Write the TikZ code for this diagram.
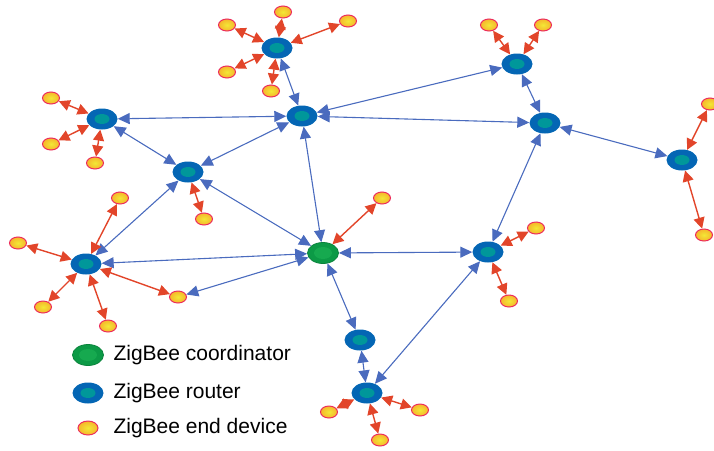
\documentclass[tikz,border=0pt]{standalone}
\usepackage{fontspec}
\setmainfont{Liberation Sans}
\usetikzlibrary{shapes.geometric,arrows.meta}

\definecolor{zbblue}{HTML}{0466B4}
\definecolor{zbteal}{HTML}{00979A}
\definecolor{zbgreen}{HTML}{0C9A46}
\definecolor{zbgreenin}{HTML}{16A94F}
\definecolor{zbline}{HTML}{4A6BBE}
\definecolor{zbred}{HTML}{E2452A}
\definecolor{zbpink}{HTML}{EC2C5C}
\definecolor{zbyellow}{HTML}{F2E836}
\definecolor{zborange}{HTML}{F6B52C}

\tikzset{
  router/.style={ellipse, fill=zbblue, minimum width=31pt, minimum height=21pt, inner sep=0pt,
    path picture={\fill[zbteal] (path picture bounding box.center) ellipse (7.5pt and 5pt);}},
  coordnode/.style={ellipse, fill=zbgreen, draw=zbgreen!85!black, line width=0.8pt,
    minimum width=31pt, minimum height=21pt, inner sep=0pt,
    path picture={\fill[zbgreenin] (path picture bounding box.center) ellipse (9pt and 6pt);}},
  enddev/.style={ellipse, draw=zbpink, line width=1pt, inner color=zbyellow, outer color=zborange,
    minimum width=17pt, minimum height=12pt, inner sep=0pt},
  blink/.style={color=zbline, line width=1.1pt,
    {Triangle[length=12pt,width=11pt]}-{Triangle[length=12pt,width=11pt]}},
  rlink/.style={color=zbred, line width=1.4pt,
    {Triangle[length=11pt,width=11pt]}-{Triangle[length=11pt,width=11pt]}},
  legtext/.style={anchor=west, font=\fontsize{21}{25}\selectfont}
}

\begin{document}
\begin{tikzpicture}[x=1pt, y=-1pt]
    \useasboundingbox (0,0) rectangle (714,450);

    % 1. coordinator and routers
    \node[coordnode] (co) at (323,253) {};
    \node[router] (r1) at (277,48) {};
    \node[router] (r2) at (102,119) {};
    \node[router] (r3) at (302,116) {};
    \node[router] (r4) at (188,172) {};
    \node[router] (r5) at (517,64) {};
    \node[router] (r6) at (545,123) {};
    \node[router] (r7) at (682,160) {};
    \node[router] (r8) at (86,264) {};
    \node[router] (r9) at (488,252) {};
    \node[router] (r10) at (360,340) {};
    \node[router] (r11) at (367,393) {};

    % 2. end devices
    \node[enddev] (e1) at (227,25) {};
    \node[enddev] (e2) at (283,12) {};
    \node[enddev] (e3) at (348,21) {};
    \node[enddev] (e4) at (227,72) {};
    \node[enddev] (e5) at (271,91) {};
    \node[enddev] (e6) at (51,98) {};
    \node[enddev] (e7) at (51,144) {};
    \node[enddev] (e8) at (95,163) {};
    \node[enddev] (e9) at (204,219) {};
    \node[enddev] (e10) at (120,198) {};
    \node[enddev] (e11) at (18,243) {};
    \node[enddev] (e12) at (43,307) {};
    \node[enddev] (e13) at (108,326) {};
    \node[enddev] (e14) at (178,297) {};
    \node[enddev] (e15) at (382,198) {};
    \node[enddev] (e16) at (536,228) {};
    \node[enddev] (e17) at (509,301) {};
    \node[enddev] (e18) at (489,25) {};
    \node[enddev] (e19) at (543,25) {};
    \node[enddev] (e20) at (710,104) {};
    \node[enddev] (e21) at (704,235) {};
    \node[enddev] (e22) at (329,412) {};
    \node[enddev] (e23) at (380,440) {};
    \node[enddev] (e24) at (420,410) {};

    % 3. router links (blue)
    \draw[blink] (r2) edge (r3) (r1) edge (r3) (r3) edge (r4) (r2) edge (r4)
                 (r4) edge (r8) (r4) edge (co) (r3) edge (co) (r3) edge (r5)
                 (r3) edge (r6) (r5) edge (r6) (r6) edge (r7) (r6) edge (r9)
                 (co) edge (r9) (co) edge (r10) (r10) edge (r11) (r9) edge (r11)
                 (r8) edge (co) (co) edge (e14);

    % 4. end device links (red)
    \draw[rlink] (r1) edge (e1) (r1) edge (e2) (r1) edge (e3) (r1) edge (e4) (r1) edge (e5)
                 (r2) edge (e6) (r2) edge (e7) (r2) edge (e8) (r4) edge (e9)
                 (r8) edge (e10) (r8) edge (e11) (r8) edge (e12) (r8) edge (e13) (r8) edge (e14)
                 (co) edge (e15) (r9) edge (e16) (r9) edge (e17) (r5) edge (e18) (r5) edge (e19)
                 (r7) edge (e20) (r7) edge (e21) (r11) edge (e22) (r11) edge (e23) (r11) edge (e24);

    % 5. legend
    \node[coordnode] (lco) at (88,355) {};
    \node[router] (lr) at (88,393) {};
    \node[enddev, minimum width=20pt, minimum height=14pt] (le) at (88,428) {};
    \node[legtext] (lcot) at (110,355) {ZigBee coordinator};
    \node[legtext] (lrt) at (110,393) {ZigBee router};
    \node[legtext] (let) at (110,428) {ZigBee end device};
\end{tikzpicture}
\end{document}
